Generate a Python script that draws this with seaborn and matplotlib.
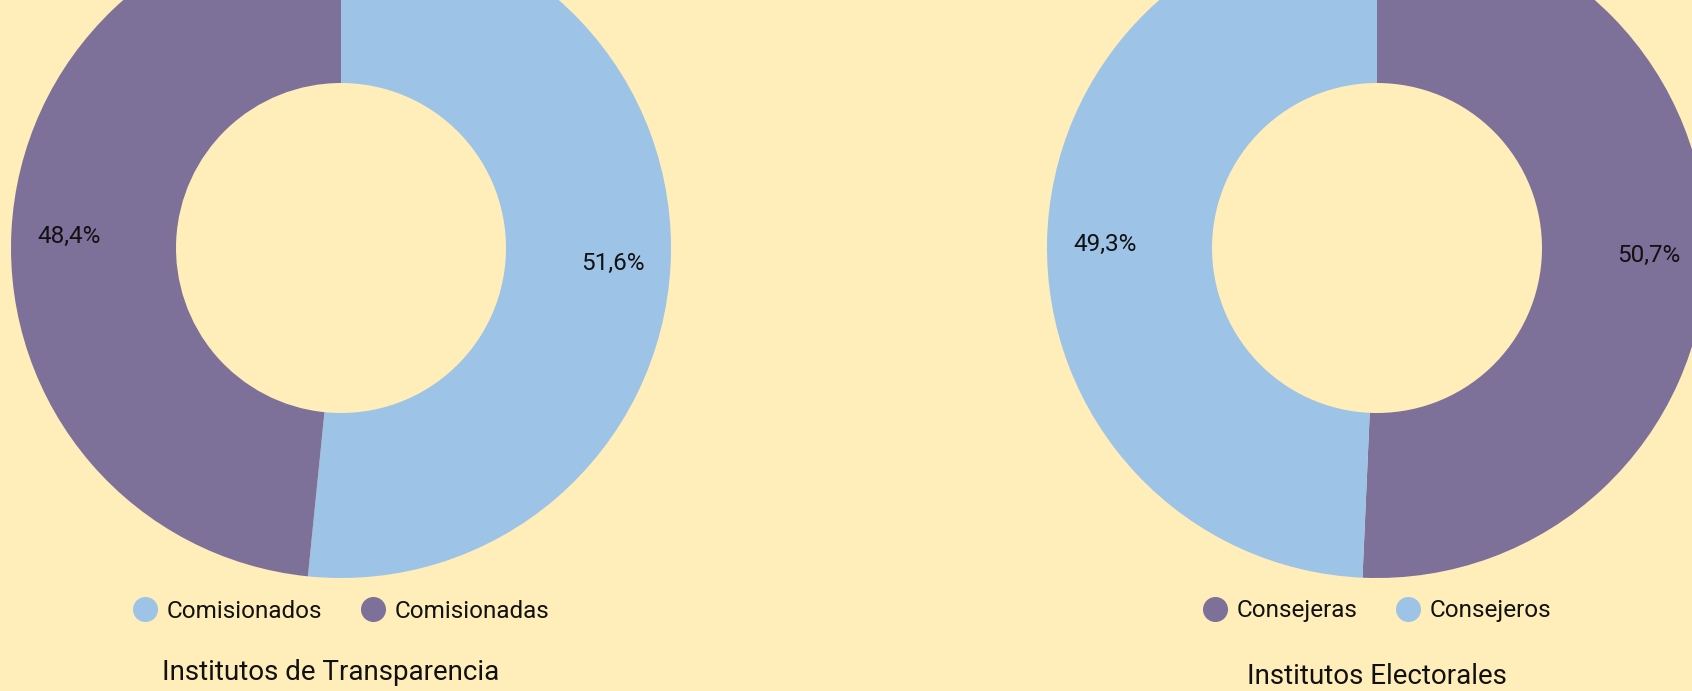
import matplotlib
matplotlib.use("Agg")
import matplotlib.pyplot as plt
from matplotlib.lines import Line2D
import seaborn as sns

# Data
left_labels = ["Comisionados", "Comisionadas"]
left_values = [51.6, 48.4]
left_title = "Institutos de Transparencia"

right_labels = ["Consejeras", "Consejeros"]
right_values = [50.7, 49.3]
right_title = "Institutos Electorales"

BG = "#FFEDBA"
BLUE = "#9DC3E7"
PURPLE = "#7D7099"

sns.set_theme(style="white")
plt.rcParams["font.family"] = ["Roboto", "DejaVu Sans"]

W, H = 1692, 691
fig = plt.figure(figsize=(W / 100, H / 100), dpi=100, facecolor=BG)

R = 330


def add_donut(cx, cy, values, labels, colors, title, title_xy, legend_xy):
    ax = fig.add_axes([(cx - R) / W, (H - cy - R) / H, 2 * R / W, 2 * R / H])
    ax.set_facecolor("none")
    wedges, texts, autotexts = ax.pie(
        values, colors=colors, startangle=90, counterclock=False,
        radius=1.0, wedgeprops=dict(width=0.5, linewidth=0),
        autopct=lambda p: f"{p:.1f}%".replace(".", ","),
        pctdistance=0.825, textprops=dict(fontsize=17.5, color="#111111"),
    )
    for t in autotexts:
        x, y = t.get_position()
        t.set_position((x, y - 0.006))
    ax.set_xlim(-1, 1)
    ax.set_ylim(-1, 1)
    ax.set_aspect("equal")
    ax.axis("off")
    handles = [Line2D([0], [0], marker="o", linestyle="", markersize=17,
                      markerfacecolor=c, markeredgecolor=c) for c in colors]
    fig.legend(handles, labels, loc="center",
               bbox_to_anchor=(legend_xy[0] / W, 1 - legend_xy[1] / H),
               ncol=len(labels), frameon=False, fontsize=17.5,
               handletextpad=0.28, columnspacing=1.5, handlelength=1.2,
               labelcolor="#111111")
    fig.text(title_xy[0] / W, 1 - title_xy[1] / H, title, ha="center",
             va="center", fontsize=20, color="#111111")


add_donut(341, 248, left_values, left_labels, [BLUE, PURPLE], left_title,
          (331, 673), (340, 611))
add_donut(1377, 248, right_values, right_labels, [PURPLE, BLUE], right_title,
          (1377, 676), (1376, 611))

fig.savefig("out.png", dpi=100, facecolor=BG)
